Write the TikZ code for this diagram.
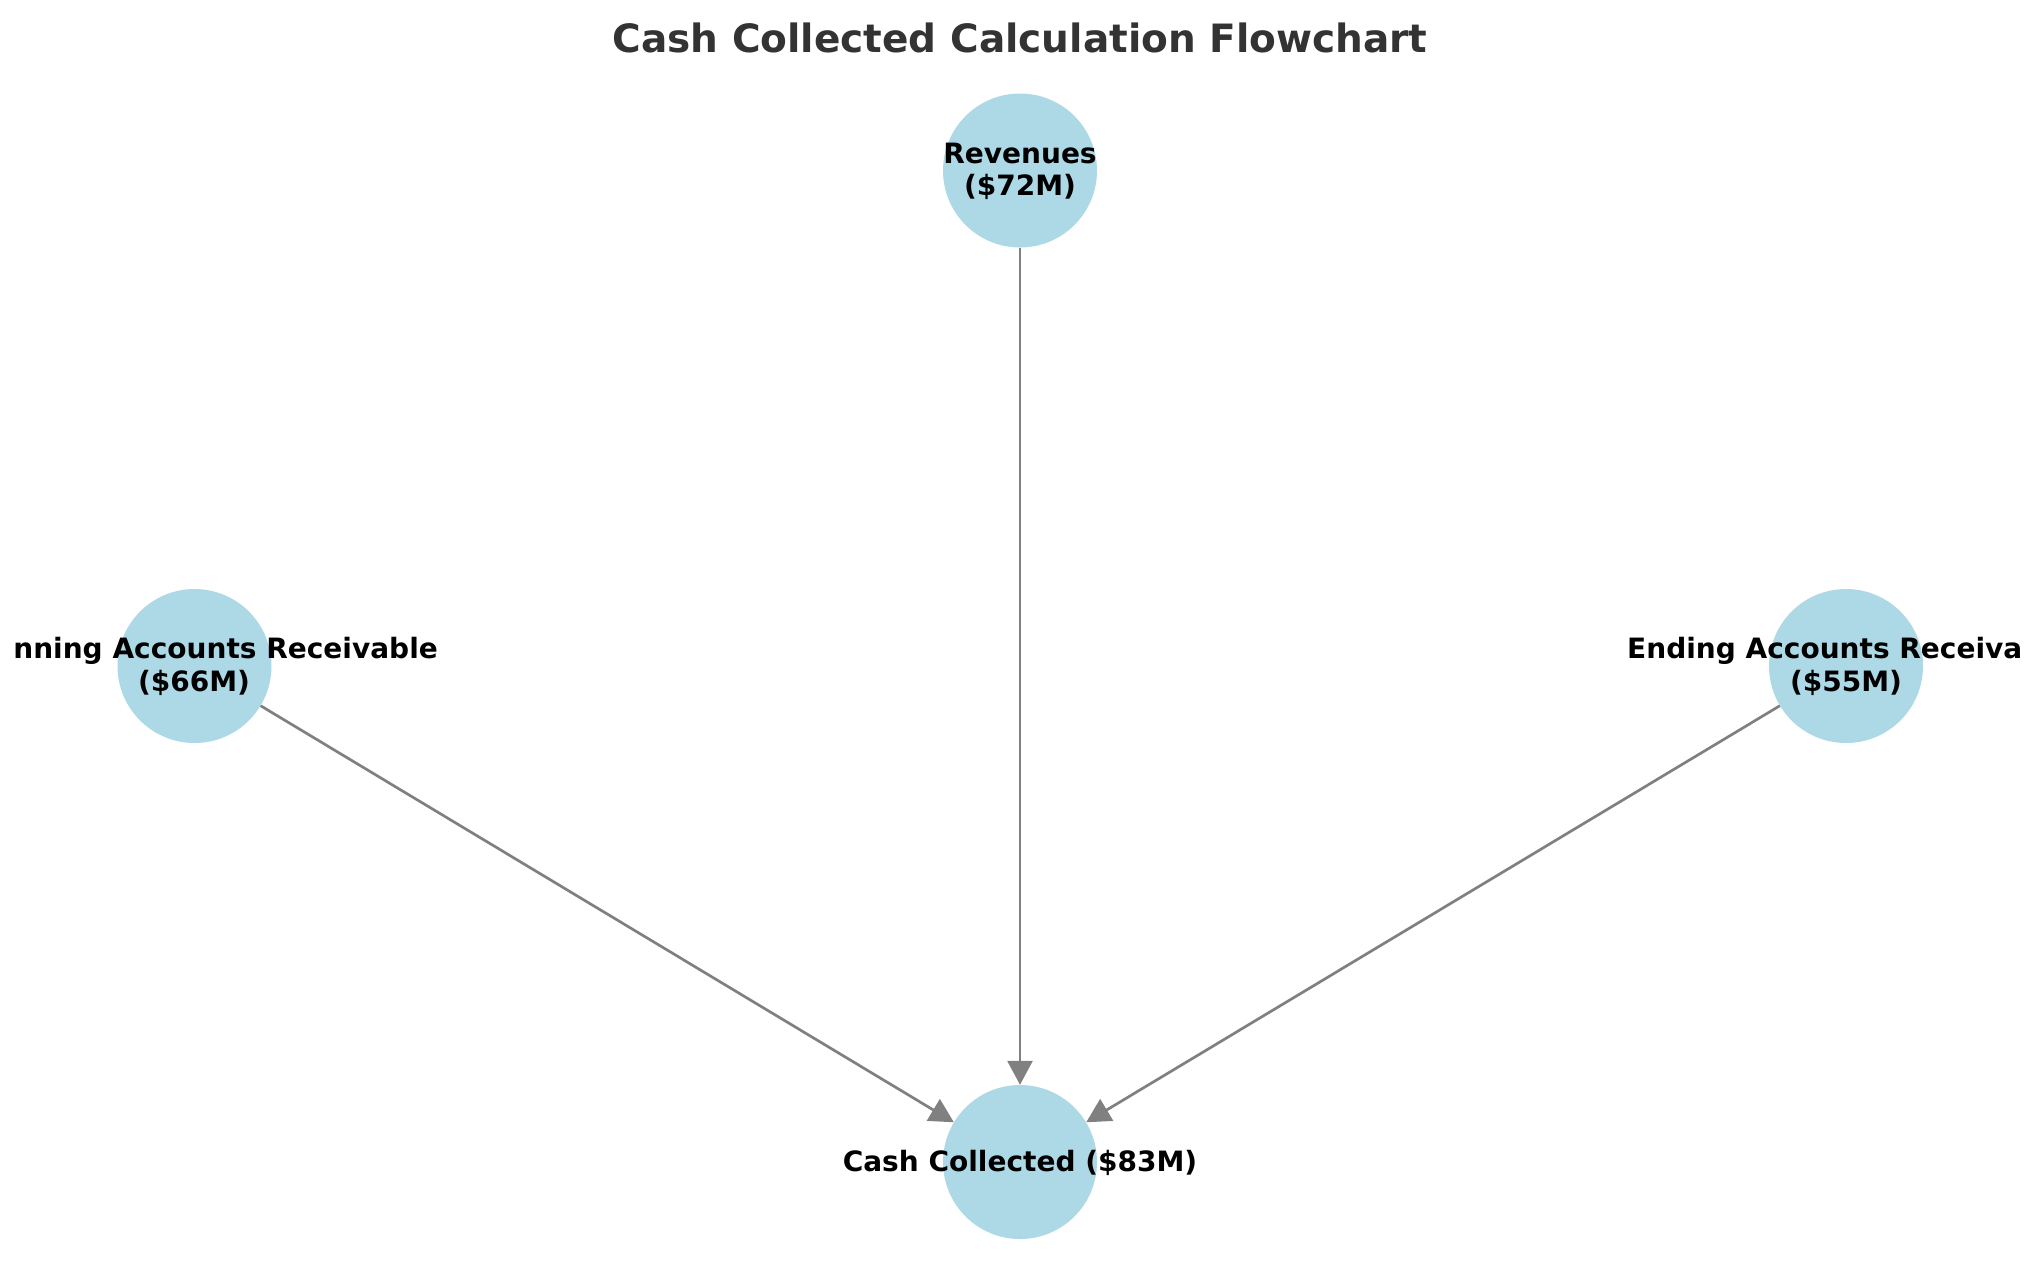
\documentclass[tikz,border=0pt]{standalone}
\usepackage{fontspec}
\setmainfont{DejaVu Sans}
\usetikzlibrary{arrows.meta}
\definecolor{nodeblue}{HTML}{ADD8E6}
\definecolor{titlegray}{HTML}{333333}
\definecolor{edgegray}{HTML}{808080}
\begin{document}
\begin{tikzpicture}[x=1pt,y=-1pt,
  bubble/.style={circle,fill=nodeblue,draw=none,minimum size=154pt,inner sep=0pt},
  lbl/.style={font=\fontsize{28}{33}\selectfont\bfseries,text=black,inner sep=0pt},
  edge/.style={draw=edgegray,line width=2.7pt,-{Triangle[length=24pt,width=25pt]}}]
\useasboundingbox (0,0) rectangle (2039,1286);
\clip (0,0) rectangle (2039,1286);
\node[font=\fontsize{39}{47}\selectfont\bfseries,text=titlegray,anchor=base] (title) at (1020,52) {Cash Collected Calculation Flowchart};
\node[bubble] (rev) at (1020,170.5) {};
\node[bubble] (beg) at (194.5,666) {};
\node[bubble] (end) at (1846,666) {};
\node[bubble] (cash) at (1020,1162) {};
\draw[edge] (rev) -- (cash);
\draw[edge] (beg) -- (cash);
\draw[edge] (end) -- (cash);
\node[lbl,anchor=base] (revA) at (1020,163) {Revenues};
\node[lbl,anchor=base] (revB) at (1020,195) {(\$72M)};
\node[lbl,anchor=base east] (begA) at (438,658) {nning Accounts Receivable};
\node[lbl,anchor=base] (begB) at (194,691) {(\$66M)};
\node[lbl,anchor=base west] (endA) at (1627,658) {Ending Accounts Receiva};
\node[lbl,anchor=base] (endB) at (1846,691) {(\$55M)};
\node[lbl,anchor=base] (cashT) at (1020,1171) {Cash Collected (\$83M)};
\end{tikzpicture}
\end{document}
